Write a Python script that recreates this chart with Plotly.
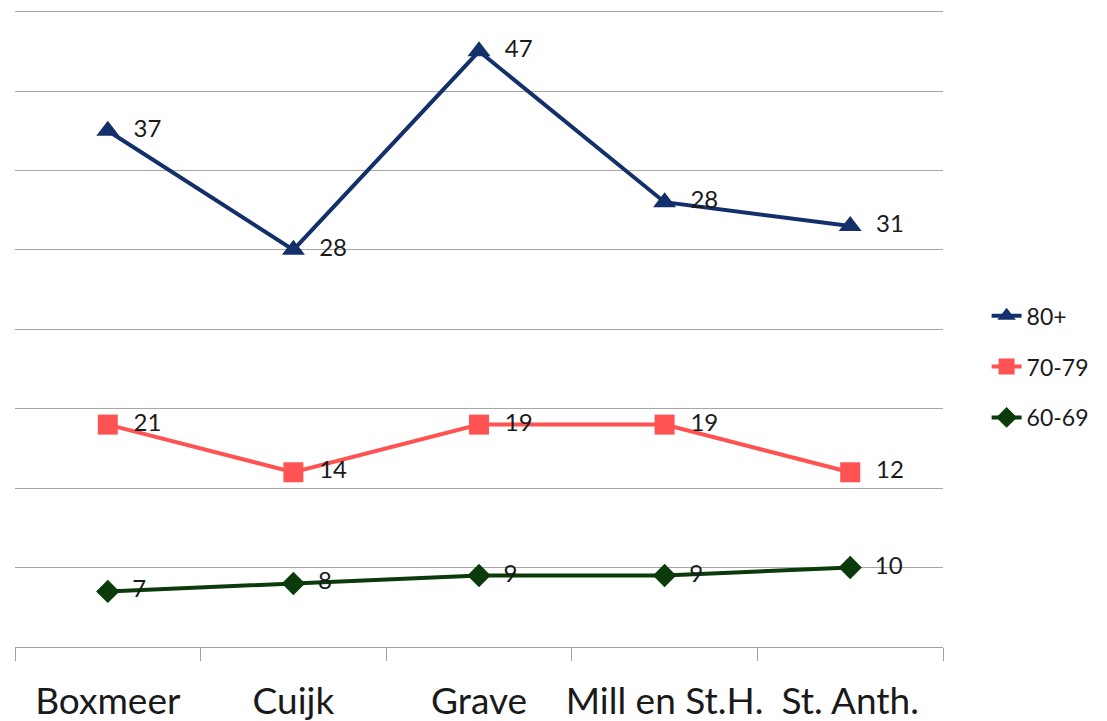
import plotly.graph_objects as go

categories = ["Boxmeer", "Cuijk", "Grave", "Mill en St.H.", "St. Anth."]
series_names = ["60-69", "70-79", "80+"]
v_60_69 = [7, 8, 9, 9, 10]
v_70_79 = [21, 14, 19, 19, 12]
v_80p = [37, 28, 47, 28, 31]

values = [v_60_69, v_70_79, v_80p]
colors = ["#0B3B0B", "#FF5353", "#14306B"]
symbols = ["diamond", "square", "triangle-up"]
sizes = [18, 20, 20]
ranks = [3, 2, 1]

FONT = "Lato, 'Open Sans', sans-serif"

fig = go.Figure()
for name, vals, col, sym, sz, rk in zip(series_names, values, colors, symbols, sizes, ranks):
    fig.add_trace(go.Scatter(
        x=categories, y=vals, name=name, legendgroup=name, legendrank=rk,
        stackgroup="one", fill="none",
        mode="lines+markers+text",
        line=dict(color=col, width=4),
        marker=dict(symbol=sym, size=sz, color=col),
        text=[str(v) for v in vals],
        texttemplate="  %{text}",
        textposition="middle right",
        textfont=dict(family=FONT, size=24, color="#1a1a1a"),
    ))

fig.update_layout(
    width=1099, height=713,
    margin=dict(l=7, r=164, t=2, b=74),
    paper_bgcolor="white", plot_bgcolor="white",
    showlegend=True,
    legend=dict(
        x=1.047, y=0.44, xanchor="left", yanchor="middle",
        traceorder="grouped",
        font=dict(family=FONT, size=23, color="#1a1a1a"),
        tracegroupgap=18,
    ),
    xaxis=dict(
        type="category", range=[-0.5, 4.5],
        tickson="boundaries", ticks="outside", ticklen=13,
        tickcolor="#A0A0A0", tickwidth=1,
        showline=True, linecolor="#A0A0A0", linewidth=1,
        showgrid=False, tickangle=0, automargin=False,
        ticklabelstandoff=22,
        tickfont=dict(family=FONT, size=37, color="#1a1a1a"),
    ),
    yaxis=dict(
        range=[0, 80.2], dtick=10,
        showticklabels=False, ticks="",
        showgrid=True, gridcolor="#A6A6A6", gridwidth=1,
        zeroline=False, showline=False, automargin=False,
    ),
)

fig.write_html("out.html")
